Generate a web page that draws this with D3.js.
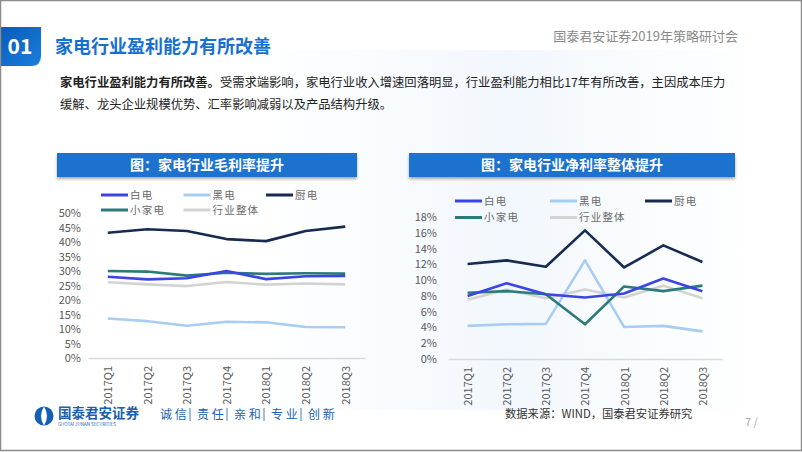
<!DOCTYPE html>
<html><head><meta charset="utf-8">
<script src="https://cdn.jsdelivr.net/npm/d3@7"></script>
<style>
html,body{margin:0;padding:0;background:#fff;}
svg{display:block;}
text{font-family:"Noto Sans CJK SC","Noto Sans",sans-serif;}
</style></head>
<body>
<svg id="c" width="802" height="452"></svg>
<script>
const quarters = ["2017Q1","2017Q2","2017Q3","2017Q4","2018Q1","2018Q2","2018Q3"];
const seriesNames = ["白电","黑电","厨电","小家电","行业整体"];
const seriesColors = ["#3b45e6","#a8cdf3","#172a52","#2c7a7a","#d3d3d3"];
// gross margin (%)
const grossWhite   = [28.0,27.1,27.5,30.0,27.2,28.2,28.3];
const grossBlack   = [13.6,12.7,11.1,12.5,12.3,10.7,10.6];
const grossKitchen = [43.2,44.4,43.8,41.0,40.3,43.8,45.3];
const grossSmall   = [30.0,29.8,28.4,29.4,29.0,29.2,29.1];
const grossTotal   = [26.1,25.4,24.8,26.2,25.3,25.7,25.4];
// net margin (%)
const netWhite   = [8.0,9.6,8.2,7.8,8.3,10.2,8.6];
const netBlack   = [4.2,4.4,4.45,12.5,4.05,4.2,3.5];
const netKitchen = [12.05,12.5,11.7,16.3,11.6,14.4,12.3];
const netSmall   = [8.4,8.6,8.2,4.4,9.2,8.6,9.3];
const netTotal   = [7.5,8.8,7.7,8.8,7.8,9.3,7.7];
const grossTicks = [0,5,10,15,20,25,30,35,40,45,50];
const netTicks = [0,2,4,6,8,10,12,14,16,18];

const titleText = "家电行业盈利能力有所改善";
const headerRight = "国泰君安证券2019年策略研讨会";
const bodyBold = "家电行业盈利能力有所改善。";
const bodyRest = "受需求端影响，家电行业收入增速回落明显，行业盈利能力相比17年有所改善，主因成本压力";
const bodyLine2 = "缓解、龙头企业规模优势、汇率影响减弱以及产品结构升级。";
const chart1Title = "图：家电行业毛利率提升";
const chart2Title = "图：家电行业净利率整体提升";
const sourceText = "数据来源：WIND，国泰君安证券研究";
const sloganParts = ["诚 信","责 任","亲 和","专 业","创 新"];

const svg = d3.select("#c");
const defs = svg.append("defs");
const g01 = defs.append("linearGradient").attr("id","g01").attr("x1","0").attr("y1","0").attr("x2","1").attr("y2","1");
g01.append("stop").attr("offset","0").attr("stop-color","#0a5ab8");
g01.append("stop").attr("offset","1").attr("stop-color","#1a7fdc");
const bgG = defs.append("linearGradient").attr("id","bgG").attr("x1","0").attr("y1","0").attr("x2","1").attr("y2","0");
bgG.append("stop").attr("offset","0").attr("stop-color","#f2f7fc").attr("stop-opacity",0);
bgG.append("stop").attr("offset","0.5").attr("stop-color","#eef5fc").attr("stop-opacity",0.8);
bgG.append("stop").attr("offset","1").attr("stop-color","#f4f8fc").attr("stop-opacity",0);
const sh = defs.append("filter").attr("id","sh").attr("x","-5%").attr("y","-20%").attr("width","110%").attr("height","160%");
sh.append("feDropShadow").attr("dx",0).attr("dy",2).attr("stdDeviation",1.5).attr("flood-color","#000").attr("flood-opacity",0.35);

// faint background
svg.append("rect").attr("x",250).attr("y",50).attr("width",520).attr("height",360).attr("fill","url(#bgG)");

// header
svg.append("path").attr("d","M0,27 H41 V56 Q41,66 31,66 H0 Z").attr("fill","url(#g01)");
svg.append("text").attr("x",20).attr("y",54).attr("text-anchor","middle").attr("fill","#fff")
  .attr("font-size",21).attr("font-weight",700).attr("font-family","'Open Sans','Noto Sans',sans-serif").text("01");
svg.append("text").attr("x",55).attr("y",53).attr("fill","#1670d0").attr("font-size",18).attr("font-weight",700).text(titleText);
svg.append("text").attr("x",738).attr("y",41).attr("text-anchor","end").attr("fill","#8a8a8a").attr("font-size",13).text(headerRight);

// body text
const bt = svg.append("text").attr("x",60).attr("y",87).attr("font-size",12.3).attr("fill","#222");
bt.append("tspan").attr("font-weight",700).text(bodyBold);
bt.append("tspan").text(bodyRest);
svg.append("text").attr("x",60).attr("y",109).attr("font-size",12.3).attr("fill","#222").text(bodyLine2);

function drawChart(cfg){
  const g = svg.append("g");
  // title bar
  g.append("rect").attr("x",cfg.barX).attr("y",153).attr("width",cfg.barW).attr("height",24)
    .attr("fill","#1a72cc").attr("filter","url(#sh)");
  g.append("text").attr("x",cfg.barX+cfg.barW/2).attr("y",170).attr("text-anchor","middle")
    .attr("fill","#fff").attr("font-size",14).attr("font-weight",700).text(cfg.title);

  const x = d3.scalePoint().domain(quarters).range(cfg.xRange).padding(0.5);
  const y = d3.scaleLinear().domain([0,cfg.max]).range(cfg.yRange);

  // y axis labels
  const ya = d3.axisLeft(y).tickValues(cfg.ticks).tickSize(0).tickPadding(0).tickFormat(d=>d+"%");
  const yg = g.append("g").attr("transform",`translate(${cfg.labelX},0)`).call(ya);
  yg.select(".domain").remove();
  yg.selectAll("text").attr("fill","#595959").attr("font-size",11).attr("font-family","Lato,'Open Sans',sans-serif");

  // x axis
  const xa = d3.axisBottom(x).tickSize(0).tickPadding(0);
  const xg = g.append("g").attr("transform",`translate(0,${cfg.yRange[0]})`).call(xa);
  xg.select(".domain").attr("stroke","#d9d9d9").attr("stroke-width",1.5);
  xg.selectAll("text").attr("fill","#595959").attr("font-size",11).attr("font-family","Lato,'Open Sans',sans-serif")
    .attr("text-anchor","end").attr("dy","0.35em").attr("transform","translate(0,8) rotate(-90)");

  const line = d3.line().x((d,i)=>x(quarters[i])).y(d=>y(d));
  const order = [4,1,3,0,2];
  order.forEach(k=>{
    g.append("path").datum(cfg.data[k]).attr("d",line).attr("fill","none")
      .attr("stroke",seriesColors[k]).attr("stroke-width",2.6).attr("stroke-linejoin","round");
  });

  // legend
  const lg = g.append("g");
  seriesNames.forEach((n,i)=>{
    const col = i%3, row = Math.floor(i/3);
    const lx = cfg.legX + col*cfg.legStep, ly = cfg.legY + row*cfg.legRow;
    lg.append("line").attr("x1",lx).attr("x2",lx+27).attr("y1",ly).attr("y2",ly)
      .attr("stroke",seriesColors[i]).attr("stroke-width",3);
    lg.append("text").attr("x",lx+29).attr("y",ly).attr("dy","0.35em").attr("fill","#6a6a6a")
      .attr("font-size",10.5).attr("letter-spacing",1.2).text(n);
  });
}

drawChart({title:chart1Title,barX:57,barW:300,xRange:[88,365],yRange:[358,213],max:50,ticks:grossTicks,labelX:81,
  data:[grossWhite,grossBlack,grossKitchen,grossSmall,grossTotal],legX:101,legY:195,legStep:82.5,legRow:15});
drawChart({title:chart2Title,barX:409,barW:326,xRange:[448,722],yRange:[359,217],max:18,ticks:netTicks,labelX:437,
  data:[netWhite,netBlack,netKitchen,netSmall,netTotal],legX:455,legY:201,legStep:95,legRow:16.5});

// footer logo
const lgG = svg.append("g");
lgG.append("circle").attr("cx",44).attr("cy",416).attr("r",9.5).attr("fill","#1560b5");
lgG.append("path").attr("d","M44,406.5 Q38,416 44,425.5 Q50,416 44,406.5 Z").attr("fill","#fff");
lgG.append("text").attr("x",58).attr("y",418).attr("fill","#1a5fb0").attr("font-size",13.5).attr("font-weight",700).text("国泰君安证券");
lgG.append("text").attr("x",58).attr("y",426).attr("fill","#1a5fb0").attr("font-size",4.5).attr("font-family","'Liberation Sans',sans-serif").text("GUOTAI JUNAN SECURITIES");
let sx = 160;
sloganParts.forEach((s,i)=>{
  svg.append("text").attr("x",sx).attr("y",419).attr("fill","#1a5fb0").attr("font-size",12).text(s);
  sx += 37;
  if(i<sloganParts.length-1){
    svg.append("line").attr("x1",sx-7).attr("x2",sx-7).attr("y1",408).attr("y2",421).attr("stroke","#1a5fb0").attr("stroke-width",0.8);
  }
});
svg.append("text").attr("x",505).attr("y",418).attr("fill","#333").attr("font-size",11.3).text(sourceText);
svg.append("text").attr("x",745).attr("y",426).attr("fill","#aaa").attr("font-size",11).text("7 /");

// outer frame
svg.append("rect").attr("x",0.5).attr("y",0.5).attr("width",801).attr("height",450).attr("fill","none").attr("stroke","#8c8c8c").attr("stroke-width",1.5);
</script>
</body></html>
